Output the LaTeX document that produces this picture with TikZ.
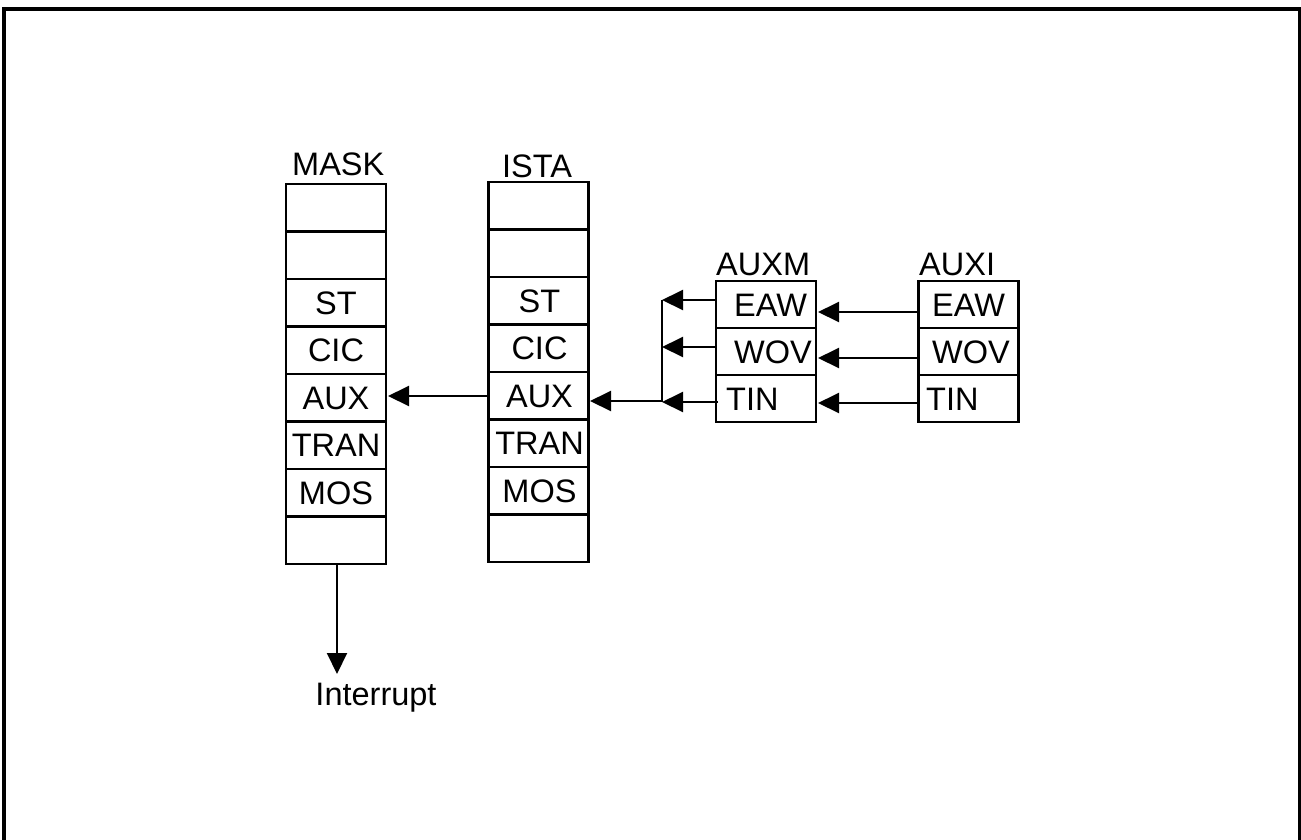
\documentclass[tikz,border=0pt]{standalone}
\usepackage{fontspec}
\setmainfont{Liberation Sans}
\usetikzlibrary{arrows.meta}
\begin{document}
\begin{tikzpicture}[x=1pt,y=-1pt,
  cell/.style={draw,line width=2.5pt,minimum width=100pt,minimum height=47.5pt,inner sep=0pt,outer sep=0pt},
  scell/.style={draw,line width=2.5pt,minimum width=100pt,minimum height=47pt,inner sep=0pt,outer sep=0pt},
  lbl/.style={inner sep=0pt,anchor=base},
  title/.style={inner sep=0pt,anchor=base west},
  conn/.style={line width=2pt,-{Triangle[length=21pt,width=20pt]}},
  plain/.style={line width=2pt},
  every node/.style={font=\fontsize{32.5}{39}\selectfont}]
\useasboundingbox (0,0) rectangle (1301,839);
\begin{scope}
\clip (0,0) rectangle (1301,839);
\draw[line width=3.5pt] (4,870) -- (4,9) -- (1300,9) -- (1300,870);
\end{scope}
% MASK column
\node[title] (mtitle) at (292,175) {MASK};
\foreach \i/\t in {0/,1/,2/ST,3/CIC,4/AUX,5/TRAN,6/MOS,7/}{
  \node[cell] (m\i) at (336,{207.75+47.5*\i}) {};
  \node[lbl] (mt\i) at (336,{207.75+47.5*\i+11.5}) {\t};
}
% ISTA column
\node[title] (ititle) at (502,177) {ISTA};
\foreach \i/\t in {0/,1/,2/ST,3/CIC,4/AUX,5/TRAN,6/MOS,7/}{
  \node[cell] (s\i) at (538.5,{205.75+47.5*\i}) {};
  \node[lbl] (st\i) at (539.5,{205.75+47.5*\i+11.5}) {\t};
}
% AUXM
\node[title] (amtitle) at (716,275) {AUXM};
\node[scell] (am0) at (766,304.5) {};
\node[scell] (am1) at (766,351.5) {};
\node[scell] (am2) at (766,398.5) {};
\node[title] (amt0) at (734,316) {EAW};
\node[title] (amt1) at (734,363) {WOV};
\node[title] (amt2) at (726,410) {TIN};
% AUXI
\node[title] (aititle) at (919,275) {AUXI};
\node[scell] (ai0) at (968.5,304.5) {};
\node[scell] (ai1) at (968.5,351.5) {};
\node[scell] (ai2) at (968.5,398.5) {};
\node[title] (ait0) at (932,316) {EAW};
\node[title] (ait1) at (932,363) {WOV};
\node[title] (ait2) at (926,410) {TIN};
% bus
\coordinate (bus0) at (662,300);
\coordinate (bus1) at (662,347);
\coordinate (bus2) at (662,402);
\coordinate (busout) at (662,401);
% arrows AUXI -> AUXM
\draw[conn] (ai0.west |- 0,312) -- (818,312);
\draw[conn] (ai1.west |- 0,358) -- (818,358);
\draw[conn] (ai2.west |- 0,403) -- (818,403);
% arrows AUXM -> bus
\draw[conn] (am0.west |- bus0) -- (bus0);
\draw[conn] (am1.west |- bus1) -- (bus1);
\draw[conn] (718,402) -- (bus2);
\draw[plain] (bus0) -- (bus2);
% bus -> ISTA AUX
\draw[conn] (busout) -- (590,401);
% ISTA AUX -> MASK AUX
\draw[conn] (s4.west |- 0,396) -- (388,396);
% MASK -> Interrupt
\node[inner sep=0pt,anchor=base] (intr) at (376,705) {Interrupt};
\draw[conn] (m7.south) ++(1,0) coordinate (mb) -- (mb |- 0,674);
\end{tikzpicture}
\end{document}
